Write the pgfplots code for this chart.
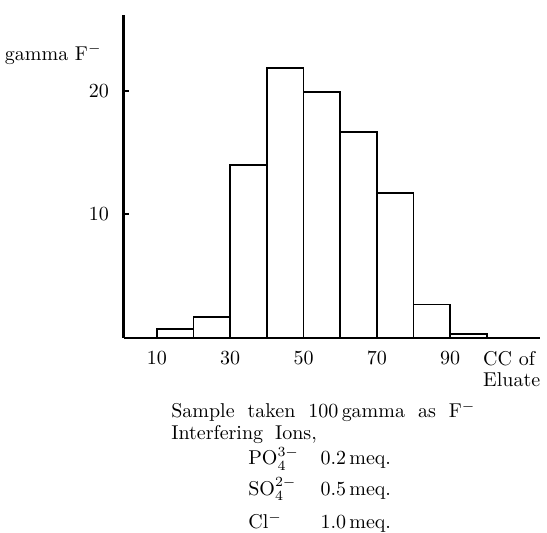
\documentclass[border=0pt]{standalone}
\usepackage{pgfplots}
\pgfplotsset{compat=1.18}
\begin{document}
\begin{tikzpicture}
\begin{axis}[
    x=1.8335pt, y=6.175pt,
    xmin=1, xmax=114.5, ymin=0, ymax=26.15,
    axis lines=left,
    axis line style={-},
    x axis line style={line width=1pt},
    y axis line style={line width=1.5pt},
    xtick={10,30,50,70,90},
    ytick={10,20},
    tick align=inside,
    major tick length=2.5pt,
    tick style={line width=1pt, black},
    xticklabel style={yshift=-3.3pt},
    yticklabel style={xshift=-4pt},
    clip=false,
]
\addplot[ybar interval, draw=black, fill=white, line width=0.9pt] coordinates {
    (10,0.75) (20,1.7) (30,14.0) (40,21.85) (50,19.9)
    (60,16.7) (70,11.75) (80,2.7) (90,0.35) (100,0)
};

% axis titles
\node[anchor=base east, inner sep=0pt] at (axis cs:-5.0,22.5) {gamma F$^{-}$};
\node[anchor=base west, inner sep=0pt] at (axis cs:98.9,-2.27) {CC of};
\node[anchor=base west, inner sep=0pt] at (axis cs:98.9,-3.97) {Eluate};

% note under the chart
\node[anchor=base west, inner sep=0pt] at (axis cs:13.83,-6.48) {%
  \begin{tabular}[t]{@{}p{38.5pt}@{}p{36.1pt}@{}l@{}}
  \multicolumn{3}{@{}l@{}}{Sample\hspace{6.5pt}taken\hspace{6.5pt}100\,gamma\hspace{6.5pt}as\hspace{6.5pt}F$^{-}$}\\[-1pt]
  \multicolumn{3}{@{}l@{}}{Interfering\hspace{6pt}Ions,}\\
  & PO$_4^{3-}$ & 0.2\,meq.\\[3pt]
  & SO$_4^{2-}$ & 0.5\,meq.\\[4.5pt]
  & Cl$^{-}$ & 1.0\,meq.
  \end{tabular}};

\coordinate (bbA) at (axis cs:-32.8,27.37);
\coordinate (bbB) at (axis cs:116.4,-15.79);
\end{axis}
\pgfresetboundingbox
\path[use as bounding box] (bbA) rectangle (bbB);
\end{tikzpicture}
\end{document}
